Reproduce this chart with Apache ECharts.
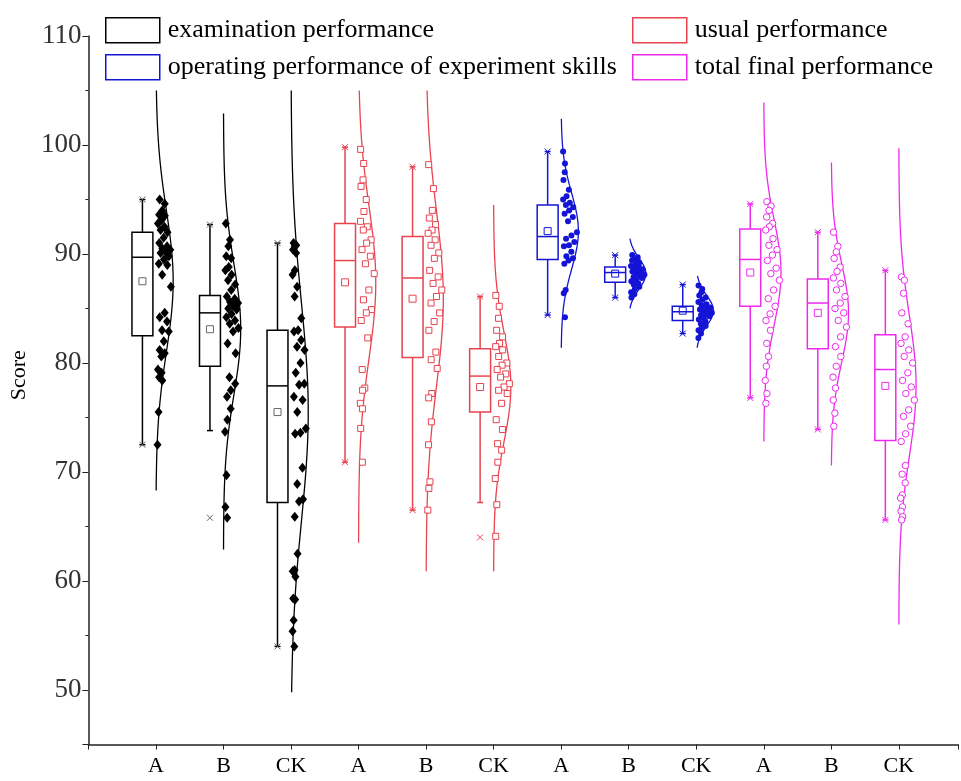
<!DOCTYPE html>
<html><head><meta charset="utf-8">
<script src="https://cdn.jsdelivr.net/npm/echarts@6/dist/echarts.min.js"></script>
<style>html,body{margin:0;padding:0;background:#fff}#chart{width:961px;height:781px}</style>
</head><body><div id="chart"></div>
<script>
const xLabels = ['A','B','CK','A','B','CK','A','B','CK','A','B','CK'];
const seriesNames = ['examination performance','usual performance','operating performance of experiment skills','total final performance'];
const seriesColors = ['#000000','#e8434f','#1414d6','#ee2aee'];
const meanColors = ['#666666','#e8434f','#1414d6','#ee2aee'];

const boxMin    = [72.5,73.8,54.0, 70.9,66.5,67.2, 84.4,86.0,82.7, 76.8,73.9,65.6];
const boxQ1     = [82.5,79.7,67.2, 83.3,80.5,75.5, 89.5,87.4,83.9, 85.2,81.3,72.9];
const boxMedian = [89.7,84.6,77.9, 89.4,87.8,78.8, 91.6,88.3,84.7, 89.5,85.5,79.4];
const boxQ3     = [92.0,86.2,83.0, 92.8,91.6,81.3, 94.5,88.8,85.2, 92.3,87.7,82.6];
const boxMax    = [95.0,92.7,91.0, 99.8,98.0,86.1, 99.4,89.9,87.2, 94.6,92.0,88.5];
const boxMean   = [87.5,83.1,75.5, 87.4,85.9,77.8, 92.1,88.2,84.8, 88.3,84.6,77.9];
const extremeLow  = [72.5,65.8,54.0, 70.9,66.5,64.0, 84.4,86.0,82.7, 76.8,73.9,65.6];
const extremeHigh = [95.0,92.7,91.0, 99.8,98.0,86.1, 99.4,89.9,87.2, 94.6,92.0,88.5];

const curveSd   = [6.5,6.0,10.0, 7.0,8.0,5.0, 3.5,1.4,1.4, 4.8,4.5,6.5];
const curveLow  = [68.3,62.9,49.8, 63.5,60.9,60.9, 81.4,85.0,81.4, 72.8,70.6,56.0];
const curveHigh = [105.0,102.9,105.0, 105.0,105.0,94.5, 102.4,91.4,88.0, 103.9,98.4,99.7];

const examA = [95.0,94.6,94.0,93.6,93.5,93.1,92.8,92.5,92.2,92.0,91.5,91.0,90.7,90.5,90.4,90.2,90.1,89.8,89.5,89.1,89.0,88.1,87.0,84.6,84.2,83.8,83.0,82.9,82.0,81.2,80.9,80.6,79.4,79.1,78.7,78.4,75.5,72.5];
const examB = [92.8,91.3,90.7,89.8,89.6,88.8,88.5,88.1,87.6,87.2,86.7,86.1,85.9,85.6,85.5,85.2,85.0,84.9,84.5,84.2,83.9,83.6,83.2,82.9,81.8,80.9,78.7,78.1,77.5,76.9,75.8,74.8,73.7,69.7,66.8,65.8];
const examCK = [91.0,90.8,90.7,90.4,90.1,88.5,88.1,87.0,86.1,84.1,83.0,82.9,82.1,81.5,81.2,80.0,79.1,78.1,78.0,76.9,76.6,75.5,74.0,73.6,73.5,70.4,68.9,67.5,67.3,65.9,62.5,61.0,60.9,60.4,58.4,58.3,56.4,55.4,54.0];
const usualA = [99.6,98.3,96.8,96.2,95.0,93.9,93.0,92.5,92.2,91.3,91.0,90.4,89.8,89.1,88.2,86.7,85.8,84.9,84.6,83.9,82.3,79.4,77.7,77.5,76.3,75.8,74.0,70.9];
const usualB = [98.2,96.0,94.0,93.3,92.7,92.2,91.9,91.3,90.8,90.1,89.6,88.5,87.9,87.3,86.7,86.1,85.5,84.6,83.8,83.0,81.0,80.3,79.5,77.2,76.8,74.6,72.5,69.1,68.5,66.5];
const usualCK = [86.2,85.2,84.1,83.0,82.4,81.8,81.5,81.2,80.6,80.0,79.8,79.4,79.0,78.7,78.1,77.8,77.5,77.2,76.3,74.8,73.9,72.6,72.0,70.9,69.4,67.0,64.1];
const operA = [99.4,98.3,97.5,96.8,95.9,95.3,95.0,94.7,94.5,94.3,94.0,93.7,93.4,93.0,92.0,91.7,91.4,91.1,90.8,90.7,90.2,89.8,89.6,89.4,89.1,86.7,86.4,84.2];
const operB = [89.9,89.7,89.5,89.4,89.2,89.0,88.9,88.8,88.7,88.6,88.5,88.4,88.3,88.2,88.1,88.0,87.9,87.8,87.6,87.5,87.3,87.2,87.0,86.8,86.5,86.3,86.0];
const operCK = [87.1,86.8,86.5,86.2,86.0,85.8,85.6,85.4,85.3,85.1,85.0,84.9,84.8,84.7,84.6,84.5,84.4,84.3,84.1,84.0,83.8,83.6,83.4,83.2,83.0,82.7,82.3];
const totalA = [94.8,94.4,94.0,93.4,92.8,92.5,92.2,91.4,90.8,90.4,89.9,89.4,88.7,88.2,87.6,86.7,85.9,85.2,84.5,83.9,83.0,81.8,80.6,79.7,78.4,77.2,76.3];
const totalB = [92.0,90.7,90.2,89.6,88.8,88.4,87.8,87.3,86.7,86.1,85.5,85.0,84.6,83.9,83.3,82.4,81.5,80.6,79.7,78.7,77.7,76.6,75.4,74.2];
const totalCK = [87.9,87.6,86.4,84.6,83.6,82.4,81.8,81.2,80.6,80.0,79.1,78.4,77.8,77.2,76.6,75.7,75.1,74.2,73.5,72.8,70.6,69.8,69.0,67.9,67.6,66.8,66.4,65.9,65.6];

const groupPoints = [examA,examB,examCK,usualA,usualB,usualCK,operA,operB,operCK,totalA,totalB,totalCK];

const FONT = 'Liberation Serif';
const CURVE_W = 0.255;
function curveWidth(g, y) {
  const d = y - boxMean[g];
  return CURVE_W * Math.exp(-d * d / (2 * curveSd[g] * curveSd[g]));
}

const symbolStyles = [
  {symbol:'diamond', symbolSize:[8,10], itemStyle:{color:'#000', borderWidth:0, opacity:1}},
  {symbol:'rect', symbolSize:6, itemStyle:{color:'#fff', borderColor:seriesColors[1], borderWidth:1, opacity:1}},
  {symbol:'circle', symbolSize:6, itemStyle:{color:seriesColors[2], borderWidth:0, opacity:1}},
  {symbol:'circle', symbolSize:6.5, itemStyle:{color:'#fff', borderColor:seriesColors[3], borderWidth:1, opacity:1}}
];

const series = [];
for (let t = 0; t < 4; t++) {
  const boxData = [];
  for (let k = 0; k < 3; k++) {
    const g = t * 3 + k;
    boxData.push([g + 1, boxMin[g], boxQ1[g], boxMedian[g], boxQ3[g], boxMax[g], boxMean[g], extremeLow[g], extremeHigh[g]]);
  }
  series.push({
    name: seriesNames[t], type: 'custom', z: 4,
    data: boxData,
    encode: {x: 0, y: [1,2,3,4,5]},
    itemStyle: {color: seriesColors[t]},
    renderItem: (function(tt){ return function(params, api) {
      const pos = api.value(0);
      const col = seriesColors[tt];
      const xl = api.coord([pos - 0.355, 60])[0];
      const xr = api.coord([pos - 0.045, 60])[0];
      const xm = api.coord([pos - 0.2, 60])[0];
      const Y = v => api.coord([pos, v])[1];
      const st = {stroke: col, lineWidth: 1.5, fill: null};
      const ch = [];
      ch.push({type:'rect', shape:{x:xl, y:Y(api.value(4)), width:xr-xl, height:Y(api.value(2))-Y(api.value(4))}, style:{stroke:col, lineWidth:1.5, fill:'rgba(0,0,0,0)'}});
      ch.push({type:'line', shape:{x1:xl, y1:Y(api.value(3)), x2:xr, y2:Y(api.value(3))}, style:st});
      ch.push({type:'line', shape:{x1:xm, y1:Y(api.value(4)), x2:xm, y2:Y(api.value(5))}, style:st});
      ch.push({type:'line', shape:{x1:xm, y1:Y(api.value(2)), x2:xm, y2:Y(api.value(1))}, style:st});
      ch.push({type:'line', shape:{x1:xm-3, y1:Y(api.value(5)), x2:xm+3, y2:Y(api.value(5))}, style:st});
      ch.push({type:'line', shape:{x1:xm-3, y1:Y(api.value(1)), x2:xm+3, y2:Y(api.value(1))}, style:st});
      const ym = Y(api.value(6));
      ch.push({type:'rect', shape:{x:xm-3.5, y:ym-3.5, width:7, height:7}, style:{stroke:meanColors[tt], lineWidth:1, fill:'rgba(0,0,0,0)'}});
      [api.value(7), api.value(8)].forEach(v => {
        const yy = Y(v), s = 3;
        ch.push({type:'line', shape:{x1:xm-s, y1:yy-s, x2:xm+s, y2:yy+s}, style:{stroke:meanColors[tt], lineWidth:1}});
        ch.push({type:'line', shape:{x1:xm-s, y1:yy+s, x2:xm+s, y2:yy-s}, style:{stroke:meanColors[tt], lineWidth:1}});
      });
      return {type:'group', children: ch};
    };})(t)
  });
}

for (let g = 0; g < 12; g++) {
  const t = Math.floor(g / 3);
  const pos = g + 1;
  // fitted normal distribution curve
  const curve = [];
  const n = 160;
  for (let i = 0; i <= n; i++) {
    const y = curveLow[g] + (curveHigh[g] - curveLow[g]) * i / n;
    curve.push([pos + curveWidth(g, y), y]);
  }
  series.push({
    name: 'curve' + g, type: 'line', data: curve, showSymbol: false, silent: true, z: 2,
    lineStyle: {color: seriesColors[t], width: 1.3}, itemStyle: {color: seriesColors[t]}
  });
  // jittered raw points
  const pts = groupPoints[g].map((y, i) => {
    const u = (i * 0.6180339887 + 0.31) % 1;
    const w = Math.max(curveWidth(g, y), 0.05);
    return [pos + 0.012 + (0.08 + 0.82 * u) * w, y];
  });
  series.push(Object.assign({
    name: 'points' + g, type: 'scatter', data: pts, z: 3, silent: true
  }, symbolStyles[t]));
}

const legendItem = t => ({name: seriesNames[t], icon: 'rect', itemStyle: {color: '#fff', borderColor: seriesColors[t], borderWidth: 1.5}});
const legendCommon = {
  orient: 'vertical', itemWidth: 54, itemHeight: 25, itemGap: 10.5,
  textStyle: {fontFamily: FONT, fontSize: 26, color: '#000', padding: [0,0,0,3]},
  selectedMode: false
};

const option = {
  backgroundColor: '#fff',
  animation: false,
  textStyle: {fontFamily: FONT},
  legend: [
    Object.assign({left: 100, top: 12, data: [legendItem(0), legendItem(2)]}, legendCommon),
    Object.assign({left: 627, top: 12, data: [legendItem(1), legendItem(3)]}, legendCommon)
  ],
  grid: {left: 88, right: 0, top: 36, bottom: 36.5},
  xAxis: {
    type: 'value', min: 0, max: 12.876, interval: 1,
    splitLine: {show: false},
    axisLine: {lineStyle: {color: '#222', width: 1.5}},
    axisTick: {length: 5, lineStyle: {color: '#222'}},
    axisLabel: {
      fontFamily: FONT, fontSize: 22, color: '#000', margin: 11,
      formatter: v => (Math.abs(v - Math.round(v)) < 1e-6 && v >= 1 && v <= 12) ? xLabels[Math.round(v) - 1] : ''
    }
  },
  yAxis: {
    type: 'value', min: 45, max: 110,
    name: 'Score', nameLocation: 'middle', nameGap: 50,
    nameTextStyle: {fontFamily: FONT, fontSize: 22, color: '#000', padding: [0,0,0,30]},
    splitLine: {show: false},
    axisLine: {show: true, lineStyle: {color: '#222', width: 1.5}},
    axisTick: {show: true, length: 6, lineStyle: {color: '#222'}},
    minorTick: {show: true, splitNumber: 2, length: 3, lineStyle: {color: '#222'}},
    axisLabel: {
      fontFamily: FONT, fontSize: 27, color: '#333', margin: 7,
      formatter: v => (Math.abs(v % 10) < 1e-6) ? String(v) : ''
    }
  },
  series: series
};

const chart = echarts.init(document.getElementById('chart'));
chart.setOption(option);
</script>
</body></html>
